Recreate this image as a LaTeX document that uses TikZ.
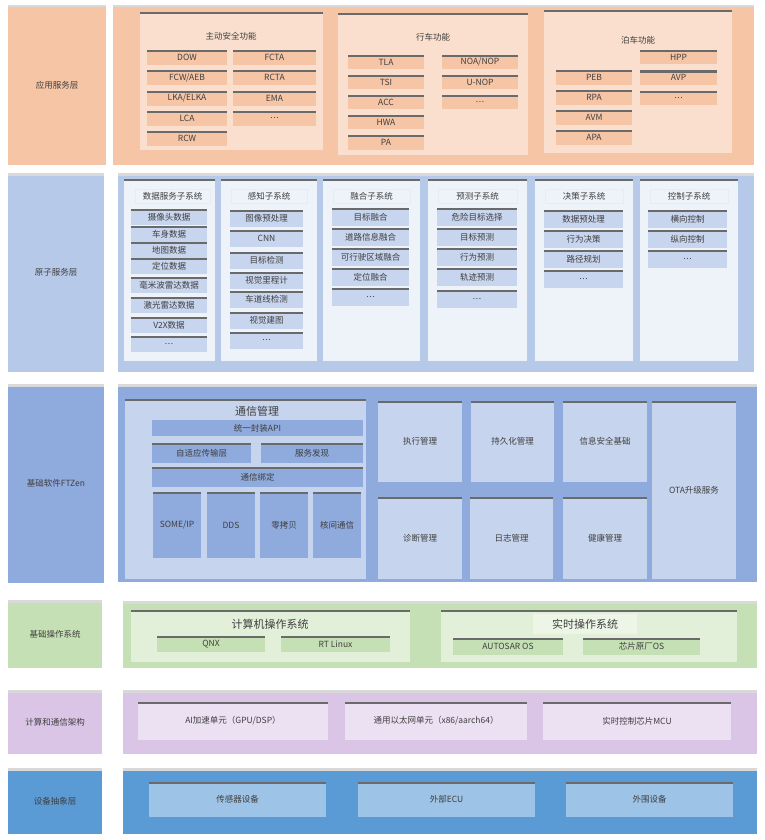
\documentclass[tikz,border=0pt]{standalone}
\usepackage{fontspec}
\newfontfamily\cjk{Noto Sans CJK SC}

\definecolor{peach}{HTML}{F6C5A5}
\definecolor{peachlt}{HTML}{FADFCE}
\definecolor{atomblue}{HTML}{B7C9E8}
\definecolor{atomlt}{HTML}{EEF2F9}
\definecolor{atombtn}{HTML}{C8D5EE}
\definecolor{swblue}{HTML}{8FAADC}
\definecolor{swlt}{HTML}{C6D4ED}
\definecolor{osgreen}{HTML}{C5E0B4}
\definecolor{osgreenlt}{HTML}{E2EFD9}
\definecolor{osgreenxlt}{HTML}{ECF5E6}
\definecolor{hwlav}{HTML}{DAC5E6}
\definecolor{hwlavlt}{HTML}{ECE0F3}
\definecolor{devblue}{HTML}{5B9BD5}
\definecolor{devlt}{HTML}{9DC3E6}
\definecolor{txtgray}{HTML}{3F3F3F}
\definecolor{barshade}{HTML}{6A6A6A}

\newcommand{\etcdots}{.\kern0.6pt.\kern0.6pt.}

\tikzset{
  boxtext/.style={inner sep=0pt, outer sep=0pt, text=txtgray,
    font=\cjk\fontsize{8.5}{10}\selectfont},
  wh/.style 2 args={minimum width=#1, minimum height=#2, anchor=north west},
  topbar/.style 2 args={path picture={
    \fill[#1] (path picture bounding box.north west) rectangle
      ([yshift=-#2]path picture bounding box.north east);}},
  layerbox/.style={boxtext, fill=#1, topbar={black!15}{2.5pt}},
  panel/.style={boxtext, fill=#1, topbar={barshade}{2pt}},
  btn/.style={boxtext, fill=#1, topbar={barshade}{2.2pt}},
  titlebox/.style={boxtext, fill=atomlt, draw=black!8, line width=0.4pt},
  bigtitle/.style={boxtext, font=\cjk\fontsize{11}{13}\selectfont}
}

\begin{document}
\begin{tikzpicture}[x=1pt, y=-1pt]

% Canvas
\useasboundingbox (0,0) rectangle (764,840);
\fill[white] (0,0) rectangle (764,840);

% --- Layer labels ---
\node[layerbox=peach, wh={98}{160}] (app-lbl) at (8,5) {应用服务层};
\node[layerbox=atomblue, wh={96}{199}] (atom-lbl) at (8,173) {原子服务层};
\node[layerbox=swblue, wh={96}{199}] (sw-lbl) at (8,384) {基础软件FTZen};
\node[layerbox=osgreen, wh={94}{68}] (os-lbl) at (8,600) {基础操作系统};
\node[layerbox=hwlav, wh={94}{64}] (hw-lbl) at (8,690) {计算和通信架构};
\node[layerbox=devblue, wh={94}{66}] (dev-lbl) at (8,768) {设备抽象层};

% --- Layer bodies ---
\node[layerbox=peach, wh={641}{160}] (app) at (113,5) {};
\node[layerbox=atomblue, wh={636}{199}] (atom) at (118,173) {};
\node[layerbox=swblue, wh={639}{198}] (sw) at (118,384) {};
\node[layerbox=osgreen, wh={634}{67}] (os) at (123,601) {};
\node[layerbox=hwlav, wh={634}{64}] (hw) at (123,690) {};
\node[layerbox=devblue, wh={634}{66}] (dev) at (123,768) {};

% --- Application services ---
\node[panel=peachlt, wh={183}{138}] (safety) at (140,12) {};
\node[boxtext] (safety-t) at (231,36) {主动安全功能};
\foreach \t [count=\i] in {DOW, FCW/AEB, LKA/ELKA, LCA, RCW}
  \node[btn=peach, wh={80}{15}] (safety-l\i) at (147,{50+20.3*(\i-1)}) {\t};
\foreach \t [count=\i] in {FCTA, RCTA, EMA, \etcdots}
  \node[btn=peach, wh={83}{15}] (safety-r\i) at (233,{50+20.3*(\i-1)}) {\t};

\node[panel=peachlt, wh={190}{142}] (drive) at (338,13) {};
\node[boxtext] (drive-t) at (433,37) {行车功能};
\foreach \t [count=\i] in {TLA, TSI, ACC, HWA, PA}
  \node[btn=peach, wh={76}{14.5}] (drive-l\i) at (348,{55+20*(\i-1)}) {\t};
\foreach \t [count=\i] in {NOA/NOP, U-NOP, \etcdots}
  \node[btn=peach, wh={76}{14.5}] (drive-r\i) at (442,{55+20*(\i-1)}) {\t};

\node[panel=peachlt, wh={188}{143}] (park) at (544,10) {};
\node[boxtext] (park-t) at (638,40) {泊车功能};
\foreach \t [count=\i] in {PEB, RPA, AVM, APA}
  \node[btn=peach, wh={76}{15}] (park-l\i) at (556,{70+20*(\i-1)}) {\t};
\foreach \t [count=\i] in {HPP, AVP, \etcdots}
  \node[btn=peach, wh={77}{14.5}] (park-r\i) at (640,{50+20.5*(\i-1)}) {\t};

% --- Atomic services ---
\node[panel=atomlt, wh={91}{182}] (data) at (124,179) {};
\node[titlebox, wh={75}{14}] (data-t) at (135,189) {数据服务子系统};
\foreach \t/\y [count=\i] in {摄像头数据/209, 车身数据/226, 地图数据/242, 定位数据/258,
    毫米波雷达数据/277, 激光雷达数据/297, V2X数据/317, \etcdots/336}
  \node[btn=atombtn, wh={76}{16}] (data-\i) at (131,\y) {\t};

\node[panel=atomlt, wh={96}{182}] (perc) at (221,179) {};
\node[titlebox, wh={76}{14}] (perc-t) at (231,189) {感知子系统};
\foreach \t/\y [count=\i] in {图像预处理/210, CNN/230, 目标检测/252, 视觉里程计/272,
    车道线检测/291, 视觉建图/312, \etcdots/332}
  \node[btn=atombtn, wh={73}{17}] (perc-\i) at (230,\y) {\t};

\node[panel=atomlt, wh={97}{182}] (fuse) at (323,179) {};
\node[titlebox, wh={77}{14}] (fuse-t) at (333,189) {融合子系统};
\foreach \t/\y [count=\i] in {目标融合/208, 道路信息融合/228, 可行驶区域融合/248,
    定位融合/268, \etcdots/288}
  \node[btn=atombtn, wh={77}{18}] (fuse-\i) at (332,\y) {\t};

\node[panel=atomlt, wh={99}{182}] (pred) at (428,179) {};
\node[titlebox, wh={79}{14}] (pred-t) at (438,189) {预测子系统};
\foreach \t/\y [count=\i] in {危险目标选择/208, 目标预测/228, 行为预测/248,
    轨迹预测/268, \etcdots/290}
  \node[btn=atombtn, wh={80}{18}] (pred-\i) at (437,\y) {\t};

\node[panel=atomlt, wh={98}{182}] (dec) at (535,179) {};
\node[titlebox, wh={78}{14}] (dec-t) at (545,189) {决策子系统};
\foreach \t/\y [count=\i] in {数据预处理/210, 行为决策/230, 路径规划/250, \etcdots/270}
  \node[btn=atombtn, wh={79}{18}] (dec-\i) at (544,\y) {\t};

\node[panel=atomlt, wh={98}{182}] (ctrl) at (640,179) {};
\node[titlebox, wh={78}{14}] (ctrl-t) at (650,189) {控制子系统};
\foreach \t/\y [count=\i] in {横向控制/210, 纵向控制/230, \etcdots/250}
  \node[btn=atombtn, wh={79}{18}] (ctrl-\i) at (648,\y) {\t};

% --- Base software ---
\node[panel=swlt, wh={241}{180}] (comm) at (125,399) {};
\node[bigtitle] (comm-t) at (257,411) {通信管理};
\node[boxtext, fill=swblue, wh={211}{16}] (api) at (152,420) {统一封装API};
\node[btn=swblue, wh={99}{20}] (trans) at (152,443) {自适应传输层};
\node[btn=swblue, wh={102}{20}] (disc) at (261,443) {服务发现};
\node[btn=swblue, wh={211}{20}] (bind) at (152,467) {通信绑定};
\foreach \t/\x [count=\i] in {{SOME/IP}/153, DDS/207, 零拷贝/260, 核间通信/313}
  \node[btn=swblue, wh={48}{66}] (proto-\i) at (\x,492) {\t};

\node[panel=swlt, wh={84}{81}] (exec) at (378,401) {执行管理};
\node[panel=swlt, wh={83}{81}] (persist) at (471,401) {持久化管理};
\node[panel=swlt, wh={84}{81}] (sec) at (563,401) {信息安全基础};
\node[panel=swlt, wh={84}{82}] (diag) at (378,497) {诊断管理};
\node[panel=swlt, wh={83}{82}] (log) at (470,497) {日志管理};
\node[panel=swlt, wh={84}{82}] (health) at (563,497) {健康管理};
\node[panel=swlt, wh={84}{178}] (ota) at (652,401) {OTA升级服务};

% --- Operating systems ---
\node[panel=osgreenlt, wh={279}{52}] (gpos) at (131,610) {};
\node[bigtitle] (gpos-t) at (270,624) {计算机操作系统};
\node[btn=osgreen, wh={108}{16}] (qnx) at (157,636) {QNX};
\node[btn=osgreen, wh={109}{16}] (rtlinux) at (281,636) {RT Linux};

\node[panel=osgreenlt, wh={296}{52}] (rtos) at (441,610) {};
\node[bigtitle, fill=osgreenxlt, wh={104}{20}] (rtos-t) at (533,614) {实时操作系统};
\node[btn=osgreen, wh={110}{17}] (autosar) at (453,638) {AUTOSAR OS};
\node[btn=osgreen, wh={117}{17}] (vendor) at (583,638) {芯片原厂OS};

% --- Compute and communication ---
\node[panel=hwlavlt, wh={190}{38}] (ai) at (138,702) {AI加速单元（GPU/DSP）};
\node[panel=hwlavlt, wh={182}{38}] (cpu) at (345,702) {通用以太网单元（x86/aarch64）};
\node[panel=hwlavlt, wh={188}{38}] (mcu) at (543,702) {实时控制芯片MCU};

% --- Device abstraction ---
\node[panel=devlt, wh={177}{35}] (sensor) at (149,782) {传感器设备};
\node[panel=devlt, wh={177}{35}] (ecu) at (358,782) {外部ECU};
\node[panel=devlt, wh={167}{35}] (periph) at (566,782) {外围设备};

\end{tikzpicture}
\end{document}
